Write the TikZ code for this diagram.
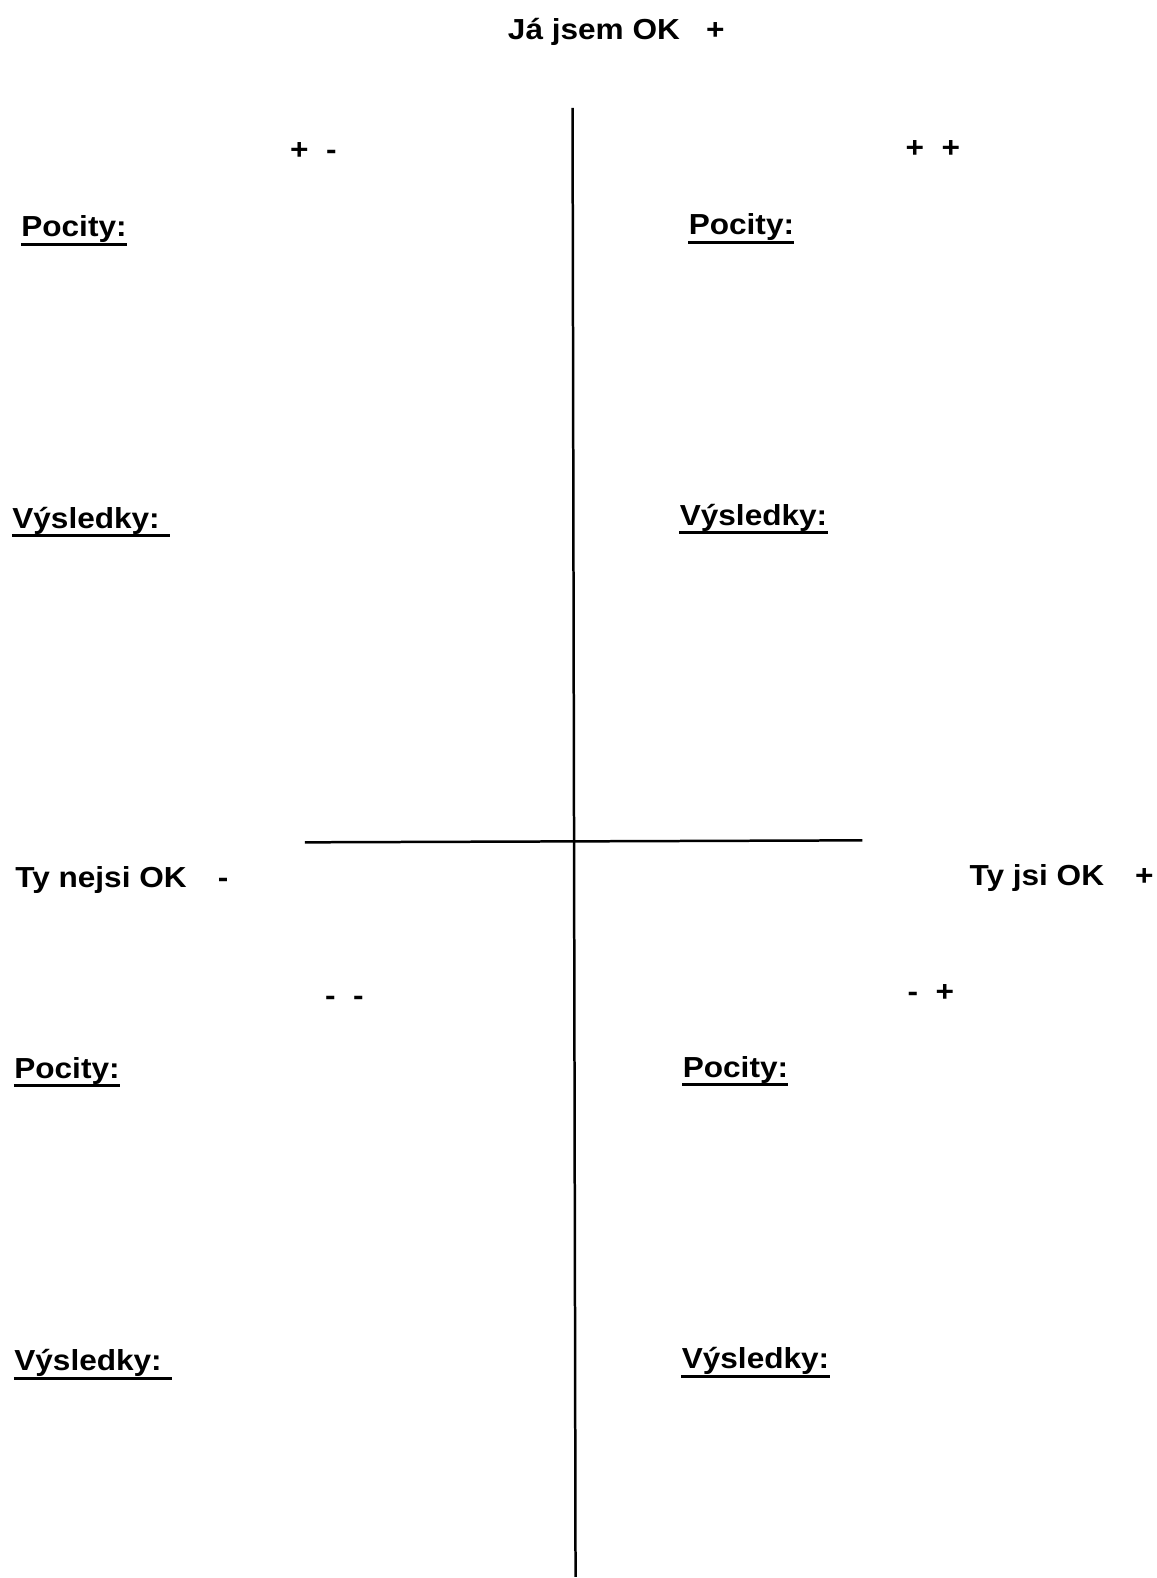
\documentclass[tikz,border=0pt]{standalone}
\usepackage{fontspec}
\setmainfont{Liberation Sans}[FakeStretch=1.09]

\begin{document}
\begin{tikzpicture}[x=0.02cm, y=-0.02cm,
    txt/.style={font=\fontsize{16.5}{19}\selectfont\bfseries, anchor=base west, inner sep=0pt},
    hdr/.style={txt, text depth=0.14cm},
    uline/.style={line width=0.06cm},
    axis/.style={line width=0.05cm}]
    % Page
    \fill [white] (0,0) rectangle (1157,1578);
    % Axes
    \coordinate (vtop) at (573,108);
    \coordinate (vbot) at (576,1578);
    \coordinate (hleft) at (305,843);
    \coordinate (hright) at (863,841);
    \draw [axis] (vtop) -- (vbot);
    \draw [axis] (hleft) -- (hright);
    % Axis labels
    \node [txt] (ja) at (508,40) {Já jsem OK~~~+};
    \node [txt] (tynejsi) at (15,888) {Ty nejsi OK~~~\,-};
    \node [txt] (tyjsi) at (970,886) {Ty jsi OK~~~\,+};
    % Quadrant signs
    \node [txt] (pm) at (290,160) {+~~-};
    \node [txt] (pp) at (906,158) {+~~+};
    \node [txt] (mm) at (325,1006) {-~~-};
    \node [txt] (mp) at (908,1002) {-~~+};
    % Headings (with underline)
    \foreach \n/\x/\y/\lbl/\e in {pocA/21/237/Pocity:/0, pocB/689/235/Pocity:/0,
        vysA/12/529/Výsledky:/10, vysB/680/526/Výsledky:/0,
        pocC/14/1079/Pocity:/0, pocD/683/1078/Pocity:/0,
        vysC/14/1372/Výsledky:/10, vysD/682/1370/Výsledky:/0}
    {
        \node [hdr] (\n) at (\x,\y) {\lbl};
        \draw [uline] (\n.south west) -- ([xshift=\e*0.02cm]\n.south east);
    }
\end{tikzpicture}
\end{document}
